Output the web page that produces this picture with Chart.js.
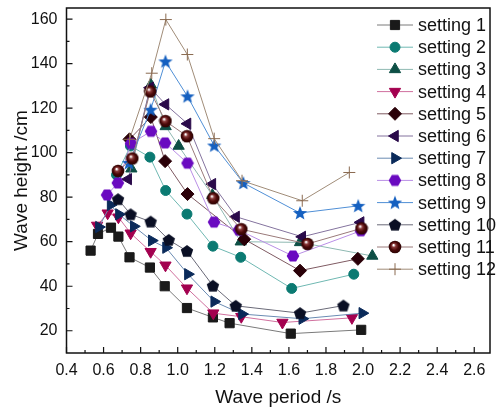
<!DOCTYPE html>
<html>
<head>
<meta charset="utf-8">
<script src="https://cdn.jsdelivr.net/npm/chart.js@4.4.1/dist/chart.umd.min.js"></script>
<style>
  html, body { margin: 0; padding: 0; background: #fff; }
</style>
</head>
<body>
<canvas id="waveChart" width="498" height="410"></canvas>
<script>
// wave period (s) and wave height (cm) for each setting
const settings = ['setting 1', 'setting 2', 'setting 3', 'setting 4', 'setting 5', 'setting 6',
                  'setting 7', 'setting 8', 'setting 9', 'setting 10', 'setting 11', 'setting 12'];

const period1 = [0.53, 0.57, 0.64, 0.68, 0.74, 0.85, 0.93, 1.05, 1.19, 1.28, 1.61, 1.99];
const height1 = [56, 63.5, 66.3, 62.3, 53, 48.4, 40, 30.2, 26, 23.4, 18.7, 20.4];
const period2 = [0.67, 0.745, 0.85, 0.935, 1.05, 1.19, 1.34, 1.615, 1.95];
const height2 = [90, 103, 98, 83, 72.4, 58, 53, 39, 45.4];
const period3 = [0.75, 0.855, 0.935, 1.005, 1.187, 1.34, 1.66, 2.05];
const height3 = [92.8, 130.5, 111.8, 103, 80.9, 60, 59.7, 53.6];
const period4 = [0.565, 0.622, 0.68, 0.746, 0.854, 0.934, 1.05, 1.192, 1.343, 1.565, 1.94];
const height4 = [67.3, 72.8, 71, 63.8, 55.5, 49.4, 39.1, 27.9, 26.3, 23.7, 25.8];
const period5 = [0.74, 0.855, 0.932, 1.053, 1.359, 1.66, 1.972];
const height5 = [106, 116, 96.2, 81.4, 61.1, 47, 52.3];
const period6 = [0.733, 0.851, 0.934, 1.053, 1.187, 1.315, 1.672, 1.987];
const height6 = [88.1, 129.2, 121.7, 113, 85.9, 71.2, 62.2, 68.7];
const period7 = [0.575, 0.638, 0.683, 0.763, 0.86, 0.937, 1.055, 1.197, 1.347, 1.672, 1.996];
const height7 = [66.6, 76.5, 72.3, 66.9, 60.5, 57.3, 45.4, 33.1, 27.5, 25.4, 27.9];
const period8 = [0.619, 0.677, 0.748, 0.856, 0.932, 1.053, 1.196, 1.33, 1.622, 1.988];
const height8 = [81, 86.4, 104.1, 109.6, 104.4, 95.3, 68.8, 65.2, 53.6, 64.9];
const period9 = [0.737, 0.854, 0.934, 1.053, 1.197, 1.354, 1.66, 1.974];
const height9 = [95.4, 119.3, 141, 125.3, 103.2, 86.4, 72.9, 76.1];
const period10 = [0.678, 0.746, 0.854, 0.952, 1.05, 1.19, 1.313, 1.66, 1.894];
const height10 = [79.1, 72.3, 69, 60.8, 55.8, 40.2, 31.2, 27.9, 31.3];
const period11 = [0.678, 0.755, 0.852, 0.934, 1.05, 1.192, 1.343, 1.70, 1.992];
const height11 = [91.8, 97.4, 127.5, 114.2, 107.4, 79.5, 65.6, 59, 66];
const period12 = [0.74, 0.86, 0.936, 1.052, 1.197, 1.347, 1.672, 1.926];
const height12 = [106, 135.7, 159.8, 144.1, 106.3, 87.4, 78.4, 91.1];

const periods = [period1, period2, period3, period4, period5, period6,
                 period7, period8, period9, period10, period11, period12];
const heights = [height1, height2, height3, height4, height5, height6,
                 height7, height8, height9, height10, height11, height12];

const xTicks = [0.4, 0.6, 0.8, 1.0, 1.2, 1.4, 1.6, 1.8, 2.0, 2.2, 2.4, 2.6];
const yTicks = [20, 40, 60, 80, 100, 120, 140, 160];

// little canvases for the markers Chart.js has no shape for
function marker(kind, color) {
  const c = document.createElement('canvas');
  const s = kind === 'star' ? 16 : 14;
  c.width = s; c.height = s;
  const g = c.getContext('2d');
  const m = s / 2;
  g.fillStyle = color;
  g.beginPath();
  if (kind === 'star') {
    for (let i = 0; i < 10; i++) {
      const r = i % 2 === 0 ? 7.5 : 3.2;
      const a = -Math.PI / 2 + i * Math.PI / 5;
      g.lineTo(m + r * Math.cos(a), m + 0.5 + r * Math.sin(a));
    }
  } else if (kind === 'pentagon') {
    for (let i = 0; i < 5; i++) {
      const a = -Math.PI / 2 + i * 2 * Math.PI / 5;
      g.lineTo(m + 6.5 * Math.cos(a), m + 0.6 + 6.5 * Math.sin(a));
    }
  } else if (kind === 'hexagon') {
    for (let i = 0; i < 6; i++) {
      const a = i * Math.PI / 3;
      g.lineTo(m + 6.3 * Math.cos(a), m + 6.3 * Math.sin(a));
    }
  } else if (kind === 'sphere') {
    const grd = g.createRadialGradient(m - 1.5, m - 2, 0.5, m, m, 6.5);
    grd.addColorStop(0, '#ffffff');
    grd.addColorStop(0.25, '#8a3a3a');
    grd.addColorStop(0.6, '#4a0808');
    grd.addColorStop(1, '#2a0303');
    g.fillStyle = grd;
    g.arc(m, m, 6.3, 0, Math.PI * 2);
  }
  g.closePath();
  g.fill();
  return c;
}

const styles = [
  { line: '#7a7a7a', fill: '#1a1a1a', point: 'rect', radius: 6.5, rot: 0 },
  { line: '#6fb8b2', fill: '#0b7a72', point: 'circle', radius: 5, rot: 0 },
  { line: '#8fb9b2', fill: '#0d4f45', point: 'triangle', radius: 6.5, rot: 0 },
  { line: '#d0709e', fill: '#a3004f', point: 'triangle', radius: 6.5, rot: 180 },
  { line: '#7f5a62', fill: '#2a0008', point: 'rectRot', radius: 6.5, rot: 0 },
  { line: '#84739e', fill: '#2a0a4a', point: 'triangle', radius: 6.5, rot: 270 },
  { line: '#6a8bb3', fill: '#0a2a5a', point: 'triangle', radius: 6.5, rot: 90 },
  { line: '#b98ee6', fill: '#6a0ac0', point: marker('hexagon', '#6a0ac0'), radius: 6, rot: 0 },
  { line: '#4f8fd6', fill: '#1560c0', point: marker('star', '#1560c0'), radius: 7, rot: 0 },
  { line: '#6a6a78', fill: '#0a0f24', point: marker('pentagon', '#0a0f24'), radius: 6, rot: 0 },
  { line: '#9a7a7a', fill: '#4a0808', point: marker('sphere', '#4a0808'), radius: 6, rot: 0 },
  { line: '#a08c78', fill: '#8a6a50', point: 'cross', radius: 6, rot: 0 }
];

const datasets = settings.map(function (name, i) {
  const st = styles[i];
  return {
    label: name,
    data: periods[i].map(function (t, k) { return { x: t, y: heights[i][k] }; }),
    borderColor: st.line,
    borderWidth: 1,
    pointStyle: st.point,
    pointRadius: st.radius,
    pointRotation: st.rot,
    pointBackgroundColor: st.fill,
    pointBorderColor: st.fill,
    pointBorderWidth: 1,
    order: 11 - i,
    tension: 0
  };
});

// frame, inward ticks and the in-plot legend (Origin look)
const originLook = {
  id: 'originLook',
  afterDraw(chart) {
    const ctx = chart.ctx;
    const a = chart.chartArea;
    const xs = chart.scales.x, ys = chart.scales.y;
    ctx.save();
    ctx.strokeStyle = '#111';
    ctx.lineWidth = 1.5;
    ctx.strokeRect(a.left, a.top, a.right - a.left, a.bottom - a.top);
    ctx.lineWidth = 1.2;
    ctx.beginPath();
    for (let v = 0.4; v < 2.68; v += 0.1) {
      const px = xs.getPixelForValue(v);
      const major = Math.abs(Math.round(v * 10) % 2) === 0;
      ctx.moveTo(px, a.bottom);
      ctx.lineTo(px, a.bottom - (major ? 6 : 3));
    }
    for (let v = 20; v <= 165; v += 10) {
      const py = ys.getPixelForValue(v);
      const major = v % 20 === 0;
      ctx.moveTo(a.left, py);
      ctx.lineTo(a.left + (major ? 6 : 3), py);
    }
    ctx.stroke();

    // legend
    ctx.font = '18px "Liberation Sans", Arial, sans-serif';
    ctx.textBaseline = 'middle';
    ctx.textAlign = 'left';
    chart.data.datasets.forEach(function (ds, i) {
      const y = 25 + i * 22.2;
      ctx.strokeStyle = ds.borderColor;
      ctx.lineWidth = 1;
      ctx.beginPath();
      ctx.moveTo(377, y);
      ctx.lineTo(413, y);
      ctx.stroke();
      ctx.fillStyle = ds.pointBackgroundColor;
      ctx.strokeStyle = ds.pointBorderColor;
      Chart.helpers.drawPoint(ctx, {
        pointStyle: ds.pointStyle,
        radius: ds.pointRadius,
        rotation: ds.pointRotation,
        borderWidth: 1
      }, 395, y);
      ctx.fillStyle = '#111';
      ctx.fillText(ds.label, 418, y + 1);
    });
    ctx.restore();
  }
};

new Chart(document.getElementById('waveChart').getContext('2d'), {
  type: 'line',
  data: { datasets: datasets },
  options: {
    responsive: false,
    animation: false,
    layout: { padding: { top: 7, right: 0, left: 0, bottom: 0 } },
    plugins: { legend: { display: false }, tooltip: { enabled: false } },
    scales: {
      x: {
        type: 'linear',
        min: 0.4,
        max: 2.685,
        afterFit: function (s) { s.height = 57; s.paddingLeft = 0; s.paddingRight = 0; },
        afterBuildTicks: function (s) { s.ticks = xTicks.map(function (v) { return { value: v }; }); },
        grid: { display: false, drawTicks: false },
        border: { display: false },
        ticks: {
          padding: 8,
          color: '#111',
          font: { family: '"Liberation Sans", Arial, sans-serif', size: 16 },
          callback: function (v) { return v.toFixed(1); }
        },
        title: {
          display: true,
          text: 'Wave period /s',
          color: '#111',
          padding: { top: 0, bottom: 1 },
          font: { family: '"Liberation Sans", Arial, sans-serif', size: 19 }
        }
      },
      y: {
        type: 'linear',
        min: 10,
        max: 165,
        afterFit: function (s) { s.width = 66.5; s.paddingTop = 0; s.paddingBottom = 0; },
        afterBuildTicks: function (s) { s.ticks = yTicks.map(function (v) { return { value: v }; }); },
        grid: { display: false, drawTicks: false },
        border: { display: false },
        ticks: {
          padding: 9,
          color: '#111',
          font: { family: '"Liberation Sans", Arial, sans-serif', size: 16 }
        },
        title: {
          display: true,
          text: 'Wave height /cm',
          color: '#111',
          padding: { top: 10, bottom: 0 },
          font: { family: '"Liberation Sans", Arial, sans-serif', size: 19 }
        }
      }
    }
  },
  plugins: [originLook]
});
</script>
</body>
</html>
